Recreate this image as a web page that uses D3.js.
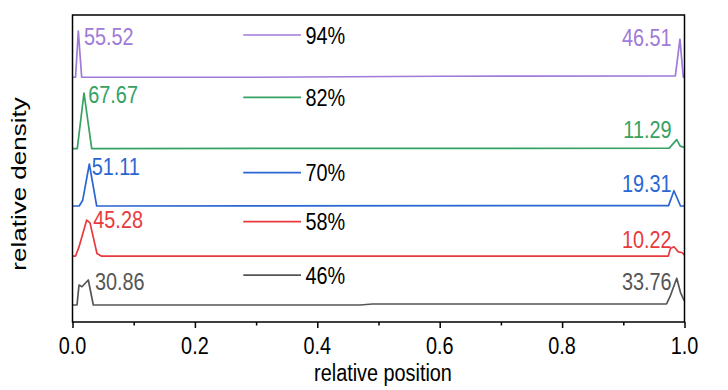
<!DOCTYPE html>
<html><head><meta charset="utf-8">
<script src="https://cdn.jsdelivr.net/npm/d3@7"></script>
<style>body{margin:0;background:#fff}svg{display:block}</style>
</head><body>
<svg id="chart" width="728" height="390"></svg>
<script>
// ---- data ----
const seriesNames = ["46%", "58%", "70%", "82%", "94%"];
const seriesColors = ["#555555", "#e8393d", "#2a66d2", "#35a262", "#a07ad8"];
const seriesOffsets = [20.5, 79.5, 139.8, 209, 295];
const leftPeakLabels = ["30.86", "45.28", "51.11", "67.67", "55.52"];
const rightPeakLabels = ["33.76", "10.22", "19.31", "11.29", "46.51"];
const xTicks = [0, 0.2, 0.4, 0.6, 0.8, 1.0];
const xMinorTicks = [0.1, 0.3, 0.5, 0.7, 0.9];

const density46 = [[0,0],[0.0074,0],[0.0106,24],[0.0155,22],[0.0258,30.1],[0.034,0],[0.47,0],[0.49,1.2],[0.96,1.2],[0.9706,1.2],[0.9763,10],[0.9873,32.2],[0.9935,15],[0.999,6],[1,5]];
const density58 = [[0,0],[0.005,0],[0.0106,11],[0.0232,43.4],[0.0286,40],[0.040,3],[0.047,0],[0.9735,0],[0.977,9.2],[0.9828,11.2],[0.9899,5],[0.9965,4],[1,1]];
const density70 = [[0,0],[0.011,0],[0.0167,7],[0.0275,50.6],[0.0395,0],[0.974,0.5],[0.9828,18.4],[0.9935,0],[1,0]];
const density82 = [[0,0],[0.0078,0],[0.0188,67],[0.0314,0],[0.975,0.5],[0.9873,10.8],[0.993,3],[1,1.5]];
const density94 = [[0,0],[0.005,0],[0.0095,55.5],[0.015,0],[0.3,0],[0.6,1.2],[0.985,1.5],[0.9926,45.8],[0.998,0],[1,0]];
const densities = [density46, density58, density70, density82, density94];

// ---- layout (label / legend placement, in data units) ----
const leftLabelX = [0.0368, 0.034, 0.0314, 0.0258, 0.0188];
const leftLabelLift = [18.1, 33.7, 37.4, 54.6, 38.6];
const rightLabelX = 0.9788;
const rightLabelLift = [18, 9.6, 17.2, 12.4, 37.4];
const legendY = [56.6, 120.9, 180, 270.8, 345.9];
const legendX = [0.279, 0.3734, 0.3808];

const W = 728, H = 390;
const m = {left: 72.5, right: 43.5, top: 15, bottom: 68};
const svg = d3.select("#chart");
const FONT = "'Liberation Sans', Arial, sans-serif";
const SX = 0.81;

const x = d3.scaleLinear().domain([0, 1]).range([m.left, W - m.right]);
const y = d3.scaleLinear().domain([0, 370]).range([H - m.bottom, m.top]);

function sText(g, tx, ty, str, anchor, color, size) {
  return g.append("text")
    .attr("transform", `translate(${tx},${ty}) scale(${SX},1)`)
    .attr("text-anchor", anchor)
    .attr("font-family", FONT)
    .attr("font-size", size || 24.5)
    .attr("fill", color || "#000")
    .text(str);
}

// curves
const line = d3.line().x(d => x(d[0])).y(d => d[1]);
densities.forEach((ser, i) => {
  svg.append("path")
    .attr("d", line(ser.map(p => [p[0], y(seriesOffsets[i] + p[1])])))
    .attr("fill", "none")
    .attr("stroke", seriesColors[i])
    .attr("stroke-width", 1.7)
    .attr("stroke-linejoin", "round");
});

// peak labels
const g = svg.append("g");
seriesNames.forEach((n, i) => {
  sText(g, x(leftLabelX[i]), y(seriesOffsets[i] + leftLabelLift[i]), leftPeakLabels[i], "start", seriesColors[i]);
  sText(g, x(rightLabelX), y(seriesOffsets[i] + rightLabelLift[i]), rightPeakLabels[i], "end", seriesColors[i]);
  // legend
  g.append("line")
    .attr("x1", x(legendX[0])).attr("x2", x(legendX[1]))
    .attr("y1", y(legendY[i])).attr("y2", y(legendY[i]))
    .attr("stroke", seriesColors[i]).attr("stroke-width", 1.7);
  sText(g, x(legendX[2]), y(legendY[i]) + 8.8, n, "start", "#000");
});

// frame
svg.append("rect")
  .attr("x", m.left).attr("y", m.top)
  .attr("width", W - m.left - m.right).attr("height", H - m.top - m.bottom)
  .attr("fill", "none").attr("stroke", "#000").attr("stroke-width", 1.5);

// x axis
const axisG = svg.append("g").attr("transform", `translate(0,${H - m.bottom})`);
const ax = d3.axisBottom(x).tickValues(xTicks).tickSize(6).tickFormat(() => "");
axisG.call(ax);
axisG.select(".domain").remove();
axisG.selectAll(".tick line").attr("stroke", "#000").attr("stroke-width", 1.5);
const axm = svg.append("g").attr("transform", `translate(0,${H - m.bottom})`)
  .call(d3.axisBottom(x).tickValues(xMinorTicks).tickSize(3.5).tickFormat(() => ""));
axm.select(".domain").remove();
axm.selectAll(".tick line").attr("stroke", "#000").attr("stroke-width", 1.5);
xTicks.forEach(t => sText(svg, x(t), H - m.bottom + 32, d3.format(".1f")(t), "middle", "#000"));

// titles
sText(svg, 383, 381, "relative position", "middle", "#000");
svg.append("text")
  .attr("transform", `translate(26,184) scale(${SX},1) rotate(-90)`)
  .attr("text-anchor", "middle")
  .attr("font-family", FONT).attr("font-size", 26)
  .text("relative density");
</script>
</body></html>
